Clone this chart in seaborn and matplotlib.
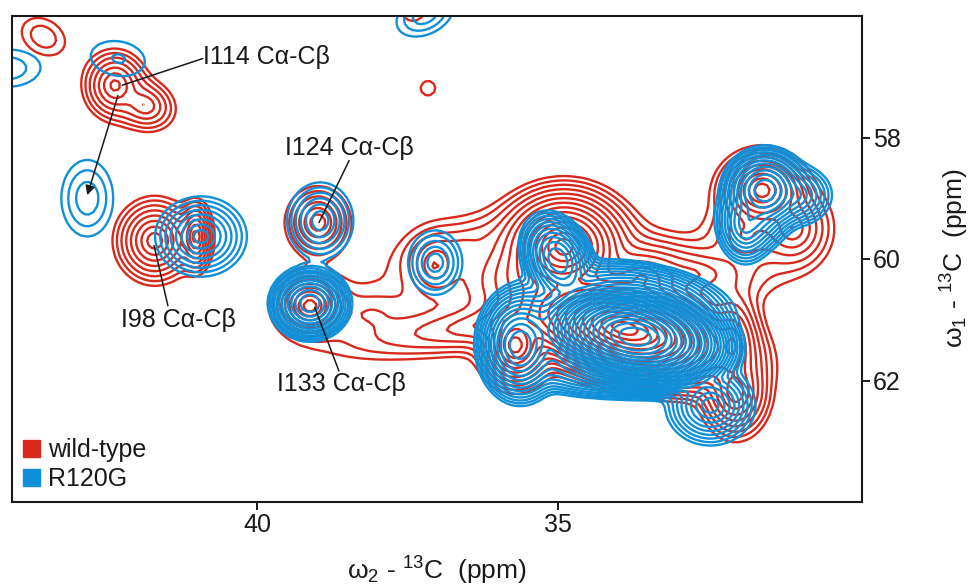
import numpy as np
import pandas as pd
import matplotlib
matplotlib.use("Agg")
import matplotlib.pyplot as plt
from matplotlib.patches import Patch
import seaborn as sns

# peak lists (ppm), radius = outer contour radius, n = number of contours
wt_x = [43.55, 42.36, 41.86, 37.16, 37.41, 41.70, 41.01, 38.99, 39.12, 37.04, 35.60,
        35.30, 34.90, 33.60, 33.89, 32.05, 35.71, 31.61, 31.10, 31.89, 32.10, 32.80, 36.60, 38.10]
wt_y = [56.34, 57.14, 57.47, 57.19, 55.88, 59.70, 59.63, 59.40, 60.77, 60.11, 61.00,
        60.20, 59.80, 60.30, 61.14, 62.20, 61.42, 58.87, 59.50, 59.61, 61.42, 60.25, 59.75, 60.90]
wt_rx = [0.38, 0.55, 0.52, 0.12, 0.20, 0.70, 0.30, 0.55, 0.66, 0.50, 2.90,
         1.75, 1.30, 1.10, 2.50, 0.62, 0.70, 0.83, 0.68, 0.66, 0.52, 1.20, 0.90, 0.75]
wt_ry = [0.28, 0.60, 0.42, 0.12, 0.20, 0.74, 0.62, 0.60, 0.58, 0.58, 0.45,
         0.95, 1.15, 0.70, 1.08, 0.80, 0.80, 0.74, 0.72, 0.58, 1.10, 0.50, 0.35, 0.40]
wt_n = [2, 6.5, 5, 0.6, 1, 8, 8, 6, 9, 5, 6,
        7, 14, 8, 18, 8, 10, 10, 6, 4, 8, 5, 2.5, 2]
wt_p = [1.3] * 5 + [1.2] * 19
wt_tilt = [30, 0, 20, 0, 0, 0, 0, 0, 0, 0, -8,
           -10, 0, 0, 14, 0, 0, 0, 0, 0, 0, 0, -15, 0]

ko_x = [42.30, 44.14, 37.21, 42.82, 40.93, 38.95, 39.12, 37.04,
        35.00, 35.63, 33.72, 32.47, 33.70, 31.56, 31.89, 31.05, 35.20, 34.10, 31.75]
ko_y = [56.70, 56.86, 55.98, 59.00, 59.63, 59.37, 60.73, 60.06,
        60.02, 61.42, 61.28, 62.41, 60.70, 58.87, 59.45, 58.95, 61.20, 61.70, 59.30]
ko_rx = [0.44, 0.50, 0.50, 0.43, 0.76, 0.55, 0.70, 0.45,
         0.60, 0.75, 1.84, 0.75, 1.66, 0.75, 0.46, 0.60, 1.00, 1.66, 0.60]
ko_ry = [0.28, 0.30, 0.32, 0.63, 0.66, 0.63, 0.63, 0.53,
         0.86, 1.00, 1.00, 0.66, 0.66, 0.74, 0.63, 0.50, 0.85, 0.60, 0.60]
ko_n = [1.2, 2, 3, 3, 8, 6, 12, 5,
        11, 13, 26, 9, 10, 12, 8, 7, 8, 10, 8]
ko_p = [1.3, 1.3, 1.3, 1.3, 1.15, 1.3, 1.7, 1.3,
        1.7, 1.7, 1.7, 1.3, 2, 1.7, 1.6, 1.5, 2, 2, 1.6]
ko_tilt = [10, 0, -25, 0, 0, 0, 0, 0,
           -25, 0, 8, 0, 8, 0, 0, 0, 0, 0, 0]

x_ticks = [40, 35]
y_ticks = [58, 60, 62]
series_names = ["wild-type", "R120G"]
red = "#d9291c"
blue = "#1090d8"
base = 1.3
levels = base ** np.arange(0, 40)

wt = pd.DataFrame({"x": wt_x, "y": wt_y, "rx": wt_rx, "ry": wt_ry, "n": wt_n, "p": wt_p, "tilt": wt_tilt})
ko = pd.DataFrame({"x": ko_x, "y": ko_y, "rx": ko_rx, "ry": ko_ry, "n": ko_n, "p": ko_p, "tilt": ko_tilt})


def spectrum(peaks, X, Y):
    # soft maximum of the peaks, so the tails of small ones do not merge
    Z = np.zeros_like(X)
    for row in peaks.itertuples():
        a = np.radians(row.tilt)
        dx = -(X - row.x)
        dy = Y - row.y
        u = (dx * np.cos(a) + dy * np.sin(a)) / row.rx
        v = (-dx * np.sin(a) + dy * np.cos(a)) / row.ry
        q = np.sqrt(u ** 2 + v ** 2)
        Z += base ** (2 * row.n * (1 - q ** row.p))
    return Z ** (1 / 2)


sns.set_theme(style="ticks")
plt.rcParams["font.family"] = ["Liberation Sans", "DejaVu Sans"]
plt.rcParams["mathtext.fontset"] = "custom"
plt.rcParams["mathtext.rm"] = "Liberation Sans"
plt.rcParams["mathtext.it"] = "Liberation Sans"

fig = plt.figure(figsize=(9.73, 5.86), dpi=100)
ax = fig.add_axes([12 / 973, 1 - 502 / 586, 850 / 973, 486 / 586])

gx = np.arange(29.5, 44.6, 0.07)
gy = np.arange(55.5, 64.5, 0.07)
X, Y = np.meshgrid(gx, gy)
ax.contour(X, Y, spectrum(wt, X, Y), levels=levels, colors=red, linewidths=1.7)
ax.contour(X, Y, spectrum(ko, X, Y), levels=levels, colors=blue, linewidths=1.7)

ax.set_xlim(44.07, 29.95)
ax.set_ylim(64.0, 56.0)
ax.set_xticks(x_ticks)
ax.set_yticks(y_ticks)
ax.yaxis.tick_right()
ax.tick_params(length=6, width=1.4, labelsize=18, color="#1a1a1a", labelcolor="#1a1a1a", pad=2)
for s in ax.spines.values():
    s.set_linewidth(1.5)
    s.set_color("#1a1a1a")

line = dict(arrowstyle="-", color="#1a1a1a", lw=1.1, shrinkA=0, shrinkB=0)
ax.annotate("", xy=(42.24, 57.14), xytext=(40.90, 56.70), arrowprops=line)
ax.annotate("", xy=(38.97, 59.40), xytext=(38.47, 58.38), arrowprops=line)
ax.annotate("", xy=(41.71, 59.78), xytext=(41.48, 60.77), arrowprops=line)
ax.annotate("", xy=(39.04, 60.80), xytext=(38.64, 61.84), arrowprops=line)
ax.annotate("", xy=(42.82, 58.95), xytext=(42.31, 57.31),
            arrowprops=dict(arrowstyle="-|>", color="#1a1a1a", lw=1.1, mutation_scale=14, shrinkA=0, shrinkB=0))
txt = dict(fontsize=18, color="#1a1a1a", va="center", ha="left")
ax.text(40.90, 56.68, "I114 C\u03b1-C\u03b2", **txt)
ax.text(39.53, 58.18, "I124 C\u03b1-C\u03b2", **txt)
ax.text(42.26, 61.00, "I98 C\u03b1-C\u03b2", **txt)
ax.text(39.67, 62.05, "I133 C\u03b1-C\u03b2", **txt)

handles = [Patch(color=red, label=series_names[0]), Patch(color=blue, label=series_names[1])]
leg = ax.legend(handles=handles, loc="lower left", bbox_to_anchor=(-0.002, -0.004), frameon=False, fontsize=18,
                handlelength=0.7, handleheight=0.7, handletextpad=0.3, labelspacing=0.2, borderaxespad=0.0,
                borderpad=0.5, labelcolor="#1a1a1a")

fig.text(437 / 973, 1 - 571 / 586, r"$\mathrm{\omega_2}$ - $\mathrm{^{13}}$C  (ppm)", fontsize=19,
         color="#1a1a1a", ha="center", va="center")
fig.text(955 / 973, 1 - 258 / 586, r"$\mathrm{\omega_1}$ - $\mathrm{^{13}}$C  (ppm)", fontsize=19,
         color="#1a1a1a", ha="center", va="center", rotation=90)

fig.savefig("out.png", dpi=100)
